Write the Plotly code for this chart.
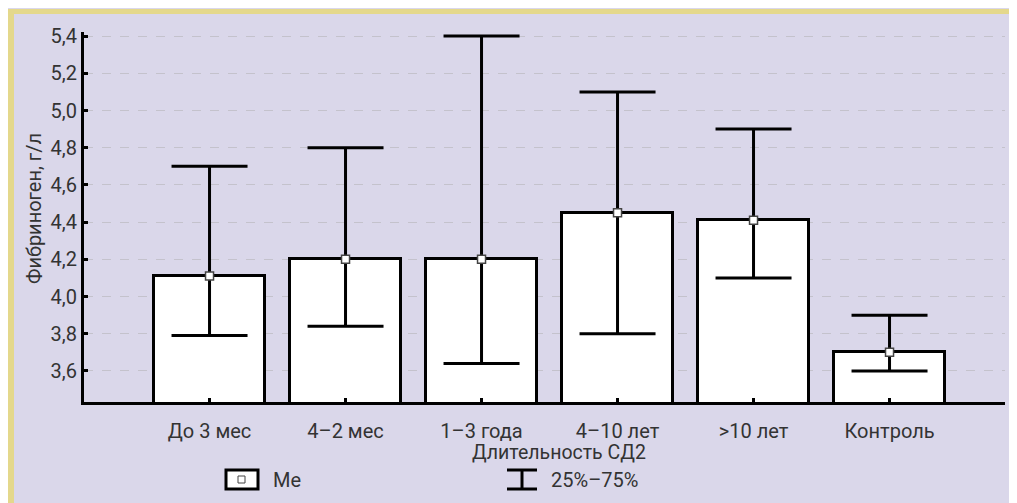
import plotly.graph_objects as go

categories = ["До 3 мес", "4–2 мес", "1–3 года", "4–10 лет", ">10 лет", "Контроль"]
median = [4.11, 4.20, 4.20, 4.45, 4.41, 3.70]
q75 = [4.70, 4.80, 5.40, 5.10, 4.90, 3.90]
q25 = [3.79, 3.84, 3.64, 3.80, 4.10, 3.60]
y_ticks = [3.6, 3.8, 4.0, 4.2, 4.4, 4.6, 4.8, 5.0, 5.2, 5.4]

OFF = 8  # page body margin
W, H = 1009, 495
L, R, T, B = 76, 12, 24, 101
PW, PH = W - L - R, H - T - B

def px(x):  # page x -> paper
    return (x - OFF - L) / PW

def py(y):  # page y -> paper
    return (H - B - (y - OFF)) / PH

FONT = "Roboto, Arial"
LAV = "#dad7ea"
YEL = "#e4d88c"
TXT = "#333333"

xs = list(range(len(categories)))
up = [a - m for a, m in zip(q75, median)]
dn = [m - b for m, b in zip(median, q25)]

fig = go.Figure()
fig.add_trace(go.Bar(
    x=xs, y=median, width=0.81,
    marker=dict(color="white", line=dict(color="black", width=3)),
    error_y=dict(type="data", symmetric=False, array=up, arrayminus=dn,
                 color="black", thickness=3, width=38),
    showlegend=False,
))
fig.add_trace(go.Scatter(
    x=xs, y=median, mode="markers",
    marker=dict(symbol="square", size=8, color="white",
                line=dict(color="#444444", width=1.5)),
    showlegend=False, cliponaxis=False,
))

shapes = [
    dict(type="rect", xref="paper", yref="paper", x0=px(8), x1=px(1017), y0=py(9), y1=py(14),
         fillcolor=YEL, line_width=0, layer="above"),
    dict(type="rect", xref="paper", yref="paper", x0=px(8), x1=px(14), y0=py(9), y1=py(503),
         fillcolor=YEL, line_width=0, layer="above"),
    # legend: Me glyph
    dict(type="rect", xref="paper", yref="paper", x0=px(226), x1=px(258), y0=py(470), y1=py(489),
         fillcolor="white", line=dict(color="black", width=3)),
    dict(type="rect", xref="paper", yref="paper", x0=px(238), x1=px(245), y0=py(476), y1=py(483),
         fillcolor="white", line=dict(color="#444444", width=1)),
    # legend: 25-75 glyph
    dict(type="line", xref="paper", yref="paper", x0=px(507), x1=px(537), y0=py(470), y1=py(470),
         line=dict(color="black", width=3)),
    dict(type="line", xref="paper", yref="paper", x0=px(507), x1=px(537), y0=py(489), y1=py(489),
         line=dict(color="black", width=3)),
    dict(type="line", xref="paper", yref="paper", x0=px(522), x1=px(522), y0=py(470), y1=py(489),
         line=dict(color="black", width=3)),
]

annotations = [
    dict(text="Длительность СД2", xref="paper", yref="paper", x=px(559), y=py(452),
         showarrow=False, font=dict(family=FONT, size=19.5, color=TXT), xanchor="center", yanchor="middle"),
    dict(text="Фибриноген, г/л", xref="paper", yref="paper", x=px(34), y=py(209),
         showarrow=False, textangle=-90, font=dict(family=FONT, size=20, color=TXT),
         xanchor="center", yanchor="middle"),
    dict(text="Me", xref="paper", yref="paper", x=px(271), y=py(480),
         showarrow=False, font=dict(family=FONT, size=20, color=TXT), xanchor="left", yanchor="middle"),
    dict(text="25%–75%", xref="paper", yref="paper", x=px(549), y=py(480),
         showarrow=False, font=dict(family=FONT, size=20, color=TXT), xanchor="left", yanchor="middle"),
]

fig.update_layout(
    width=W, height=H,
    margin=dict(l=L, r=R, t=T, b=B, pad=0),
    paper_bgcolor=LAV, plot_bgcolor=LAV,
    separators=", ",
    shapes=shapes, annotations=annotations,
    bargap=0,
    font=dict(family=FONT, size=20, color=TXT),
)
fig.update_xaxes(
    range=[-0.923, 5.849], tickmode="array", tickvals=xs, ticktext=categories,
    showline=True, linecolor="black", linewidth=3,
    ticks="inside", ticklen=4, tickwidth=3, tickcolor="black",
    showgrid=False, zeroline=False, ticklabelstandoff=9,
    tickfont=dict(family=FONT, size=20, color=TXT),
)
fig.update_yaxes(
    range=[3.433, 5.422], tickmode="array", tickvals=y_ticks, tickformat=".1f",
    showline=True, linecolor="black", linewidth=3,
    ticks="inside", ticklen=4, tickwidth=3, tickcolor="black",
    showgrid=True, gridcolor="#c4c2cc", gridwidth=1, griddash="dash",
    zeroline=False, ticklabelstandoff=0,
    tickfont=dict(family=FONT, size=20, color=TXT),
)

fig.write_html("out.html")
